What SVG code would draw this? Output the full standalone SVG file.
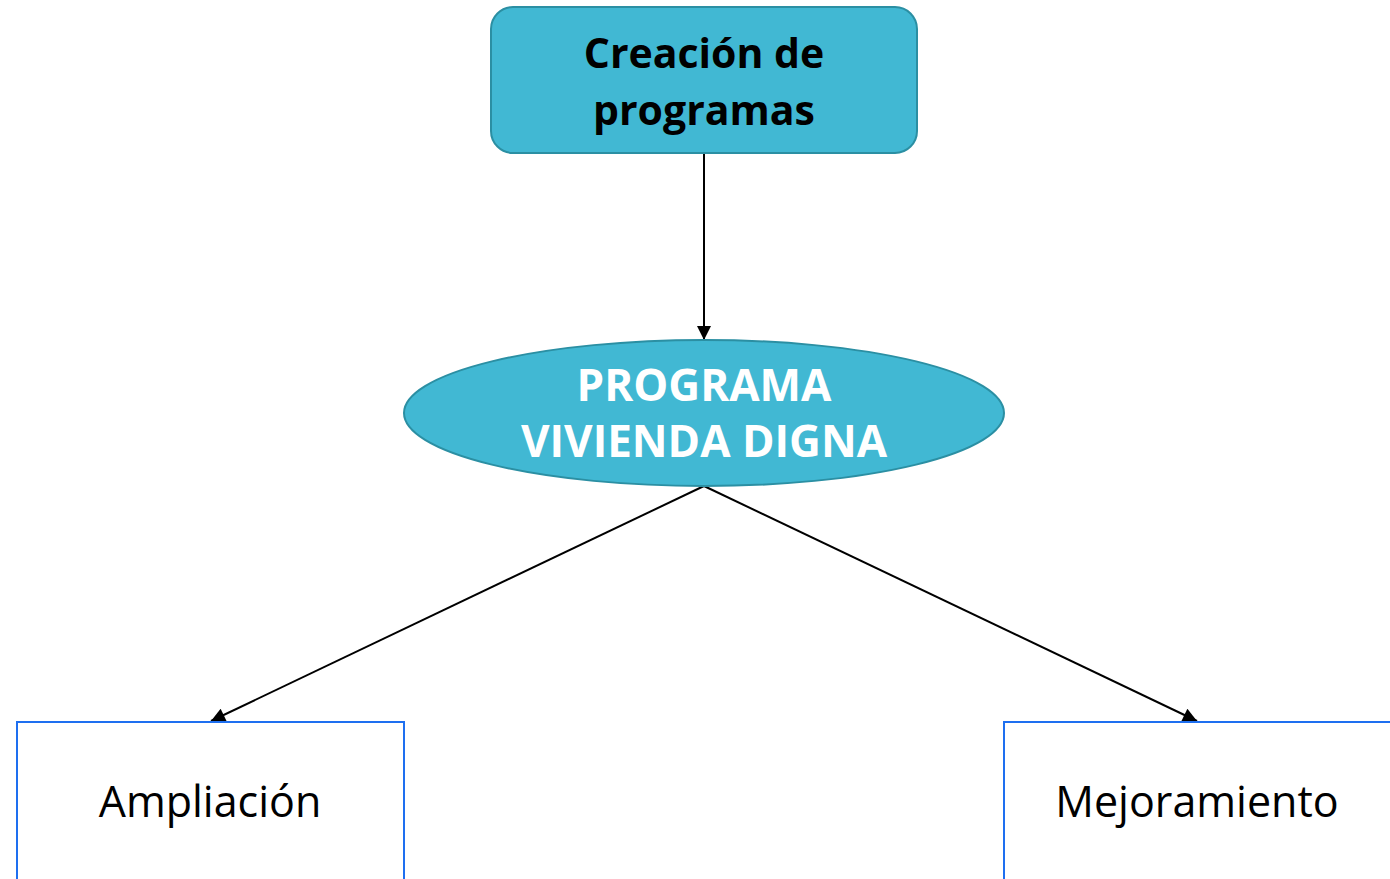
<svg xmlns="http://www.w3.org/2000/svg" width="1390" height="879" viewBox="0 0 1390 879">
<style>
.fill{fill:#41B8D3;stroke:#2B8FA3;stroke-width:2}
.box{fill:#fff;stroke:#1E6FF0;stroke-width:2}
.conn{stroke:#000;stroke-width:2;fill:none}
.tb{font-family:"Open Sans","Noto Sans",sans-serif;font-weight:bold;text-anchor:middle}
.tr{font-family:"Open Sans","Noto Sans",sans-serif;text-anchor:middle;fill:#000}
</style>
<defs>
<marker id="arr" viewBox="0 0 10 10" refX="10" refY="5" markerWidth="16" markerHeight="14" markerUnits="userSpaceOnUse" orient="auto">
<path d="M0,0 L10,5 L0,10 z" fill="#000"/>
</marker>
</defs>
<rect width="1390" height="879" fill="#fff"/>
<g id="connectors">
<line class="conn" x1="704" y1="153" x2="704" y2="340" marker-end="url(#arr)"/>
<line class="conn" x1="704" y1="486" x2="211" y2="721" marker-end="url(#arr)"/>
<line class="conn" x1="704" y1="486" x2="1197" y2="721" marker-end="url(#arr)"/>
</g>
<g id="creacion">
<rect class="fill" x="491" y="7" width="426" height="146" rx="22"/>
<text class="tb" x="704" y="68" font-size="41" fill="#000">Creación de</text>
<text class="tb" x="704" y="125" font-size="41" fill="#000">programas</text>
</g>
<g id="programa">
<ellipse class="fill" cx="704" cy="413" rx="300" ry="73"/>
<text class="tb" x="704" y="401" font-size="44" fill="#fff">PROGRAMA</text>
<text class="tb" x="704" y="457" font-size="44" fill="#fff">VIVIENDA DIGNA</text>
</g>
<g id="ampliacion">
<rect class="box" x="17" y="722" width="387" height="160"/>
<text class="tr" x="210" y="817" font-size="43">Ampliación</text>
</g>
<g id="mejoramiento">
<rect class="box" x="1004" y="722" width="390" height="160"/>
<text class="tr" x="1197" y="817" font-size="43">Mejoramiento</text>
</g>
</svg>
